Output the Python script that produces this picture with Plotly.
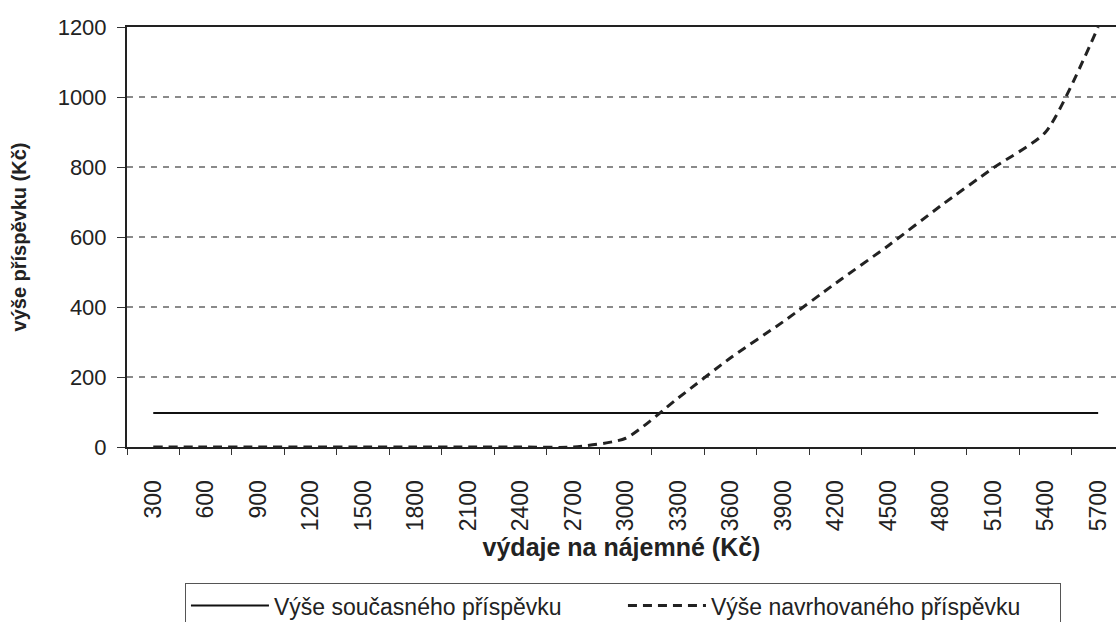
import plotly.graph_objects as go

categories = [str(v) for v in [300, 600, 900, 1200, 1500, 1800, 2100, 2400, 2700, 3000,
                                3300, 3600, 3900, 4200, 4500, 4800, 5100, 5400, 5700]]
current = [97] * 19
proposed = [0, 0, 0, 0, 0, 0, 0, 0, 0, 25, 140, 255, 358, 468, 575, 689, 797, 900, 1200]
y_ticks = [0, 200, 400, 600, 800, 1000, 1200]

FONT = "Liberation Sans, Arial, sans-serif"

fig = go.Figure()
fig.add_trace(go.Scatter(
    x=categories, y=current, mode="lines", name="Výše současného příspěvku",
    line=dict(color="#111111", width=2)))
fig.add_trace(go.Scatter(
    x=categories, y=proposed, mode="lines", name="Výše navrhovaného příspěvku",
    line=dict(color="#222222", width=3, dash="9px,6px", shape="spline", smoothing=0.6)))

fig.update_layout(
    width=1117, height=622,
    margin=dict(l=127, r=1, t=27, b=175, autoexpand=False),
    paper_bgcolor="white", plot_bgcolor="white",
    font=dict(family=FONT, size=22, color="#222222"),
    showlegend=True,
    legend=dict(orientation="h", x=0.0586, xanchor="left", y=-0.324, yanchor="top",
                bordercolor="#555555", borderwidth=1, font=dict(size=23, family=FONT),
                traceorder="normal", itemwidth=78, entrywidth=344, entrywidthmode="pixels"),
)
fig.update_xaxes(
    type="category", range=[-0.5, 18.34], tickangle=-90, automargin=False,
    tickson="boundaries", ticks="outside", ticklen=6, tickcolor="#333333",
    showline=True, linecolor="#222222", linewidth=2, mirror=True,
    showgrid=False, ticklabelstandoff=22,
    title=dict(text="<b>výdaje na nájemné (Kč)</b>", font=dict(size=25, family=FONT), standoff=8),
    tickfont=dict(size=23, family=FONT),
)
fig.update_yaxes(
    range=[0, 1200], tickvals=y_ticks, ticks="outside", ticklen=8, tickcolor="#333333",
    automargin=False, ticklabelstandoff=6,
    showline=True, linecolor="#222222", linewidth=2, mirror=False,
    showgrid=True, gridcolor="#8a8a8a", gridwidth=1.5, griddash="6px,6px",
    zeroline=False,
    title=dict(text="<b>výše příspěvku (Kč)</b>", font=dict(size=20, family=FONT), standoff=26),
    tickfont=dict(size=22, family=FONT),
)

fig.write_html("out.html", config={"displayModeBar": False},
               post_script="document.body.style.margin='0';document.body.style.overflow='hidden';")
